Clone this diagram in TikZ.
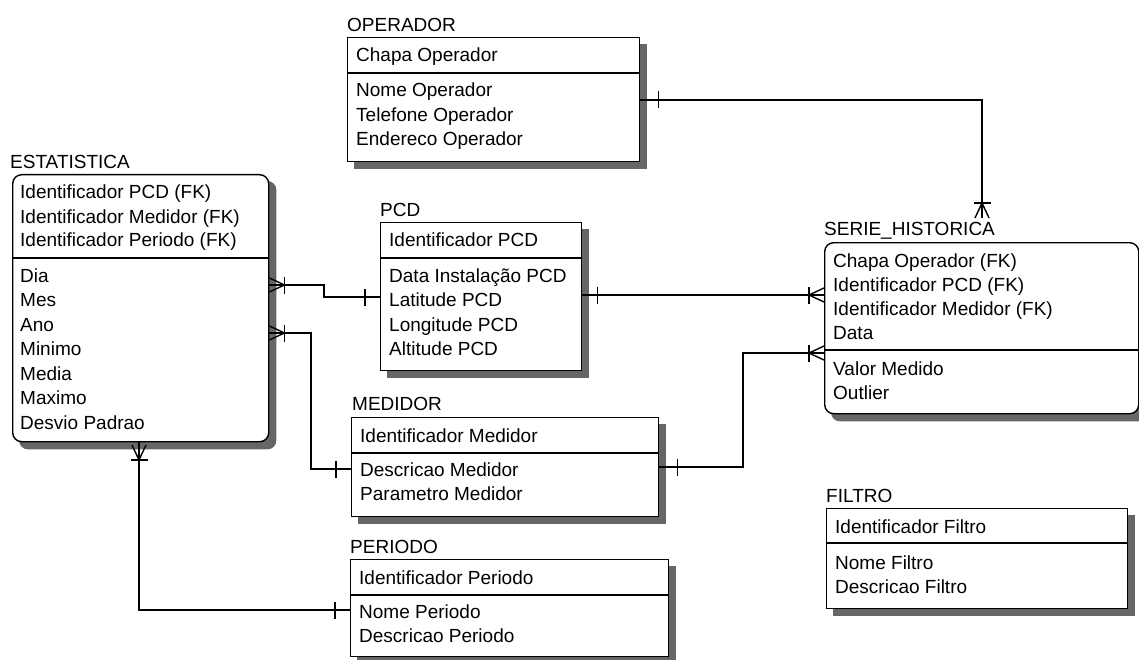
\documentclass[tikz,border=0pt]{standalone}
\usepackage{fontspec}
\setmainfont{Liberation Sans}
\usetikzlibrary{backgrounds}
\newcommand\efont{\fontsize{19}{24}\selectfont}
\tikzset{
  x=1pt, y=-1pt,
  ln/.style={line width=1.4pt, black},
  ebox/.style={draw, line width=1.4pt, fill=white, inner sep=0pt, anchor=north west},
  rbox/.style={ebox, rounded corners=9pt},
  shad/.style={fill=black!60, draw=none},
  ttl/.style={anchor=base west, inner sep=0pt, font=\efont},
  att/.style={anchor=base west, inner sep=0pt, font=\efont},
  many/.pic={\draw[ln] (0,-7) -- (15,0) -- (0,7); \draw[ln] (15,-8.5) -- (15,8.5);},
  one/.pic={\draw[ln] (15,-8.5) -- (15,8.5);},
  oneS/.pic={\draw[ln] (18,-8.5) -- (18,8.5);},
}
\begin{document}
\begin{tikzpicture}
\useasboundingbox (0,0) rectangle (1139,660);

% OPERADOR
\node[ttl] (opT) at (347,32) {OPERADOR};
\node[ebox, minimum width=292pt, minimum height=124pt] (op) at (347,37) {};
\draw[ln] (op.west |- 0,73) -- (op.east |- 0,73);
\node[att] (opK1) at (356,62) {Chapa Operador};
\node[att] (opA1) at (356,97) {Nome Operador};
\node[att] (opA2) at (356,121.5) {Telefone Operador};
\node[att] (opA3) at (356,146) {Endereco Operador};

% ESTATISTICA
\node[ttl] (estT) at (10,169) {ESTATISTICA};
\node[rbox, minimum width=256pt, minimum height=267pt] (est) at (12,174) {};
\draw[ln] (est.west |- 0,258) -- (est.east |- 0,258);
\node[att] (estK1) at (20,199) {Identificador PCD (FK)};
\node[att] (estK2) at (20,223) {Identificador Medidor (FK)};
\node[att] (estK3) at (20,247) {Identificador Periodo (FK)};
\node[att] (estA1) at (20,282) {Dia};
\node[att] (estA2) at (20,306.5) {Mes};
\node[att] (estA3) at (20,331) {Ano};
\node[att] (estA4) at (20,355.5) {Minimo};
\node[att] (estA5) at (20,380) {Media};
\node[att] (estA6) at (20,404.5) {Maximo};
\node[att] (estA7) at (20,429) {Desvio Padrao};

% PCD
\node[ttl] (pcdT) at (380,217) {PCD};
\node[ebox, minimum width=201pt, minimum height=148pt] (pcd) at (380,222) {};
\draw[ln] (pcd.west |- 0,258) -- (pcd.east |- 0,258);
\node[att] (pcdK1) at (389,246) {Identificador PCD};
\node[att] (pcdA1) at (389,282) {Data Instalação PCD};
\node[att] (pcdA2) at (389,306.5) {Latitude PCD};
\node[att] (pcdA3) at (389,331) {Longitude PCD};
\node[att] (pcdA4) at (389,355.5) {Altitude PCD};

% MEDIDOR
\node[ttl] (medT) at (352,410) {MEDIDOR};
\node[ebox, minimum width=307pt, minimum height=99pt] (med) at (351,417) {};
\draw[ln] (med.west |- 0,453) -- (med.east |- 0,453);
\node[att] (medK1) at (360,442) {Identificador Medidor};
\node[att] (medA1) at (360,476) {Descricao Medidor};
\node[att] (medA2) at (360,500.5) {Parametro Medidor};

% PERIODO
\node[ttl] (perT) at (350,553) {PERIODO};
\node[ebox, minimum width=318pt, minimum height=97pt] (per) at (350,559) {};
\draw[ln] (per.west |- 0,595) -- (per.east |- 0,595);
\node[att] (perK1) at (359,584) {Identificador Periodo};
\node[att] (perA1) at (359,618) {Nome Periodo};
\node[att] (perA2) at (359,642.5) {Descricao Periodo};

% SERIE_HISTORICA
\node[ttl] (serT) at (824,236) {SERIE\_HISTORICA};
\node[rbox, minimum width=314pt, minimum height=171pt] (ser) at (824,242) {};
\draw[ln] (ser.west |- 0,350) -- (ser.east |- 0,350);
\node[att] (serK1) at (833,267) {Chapa Operador (FK)};
\node[att] (serK2) at (833,291) {Identificador PCD (FK)};
\node[att] (serK3) at (833,315) {Identificador Medidor (FK)};
\node[att] (serK4) at (833,339) {Data};
\node[att] (serA1) at (833,375) {Valor Medido};
\node[att] (serA2) at (833,399) {Outlier};

% FILTRO
\node[ttl] (filT) at (826,502) {FILTRO};
\node[ebox, minimum width=301pt, minimum height=100pt] (fil) at (826,508) {};
\draw[ln] (fil.west |- 0,543) -- (fil.east |- 0,543);
\node[att] (filK1) at (835,533) {Identificador Filtro};
\node[att] (filA1) at (835,569) {Nome Filtro};
\node[att] (filA2) at (835,593) {Descricao Filtro};

% shadows
\begin{scope}[on background layer]
\fill[white] (0,0) rectangle (1139,660);
\foreach \b in {op,pcd,med,per,fil}
  \fill[shad] ([shift={(7pt,-7pt)}]\b.north west) rectangle ([shift={(7pt,-7pt)}]\b.south east);
\foreach \b in {est,ser}
  \fill[shad, rounded corners=9pt] ([shift={(7pt,-7pt)}]\b.north west) rectangle ([shift={(7pt,-7pt)}]\b.south east);
\end{scope}

% connectors
\coordinate (serIn) at (982,218);

\draw[ln] (est.east |- 0,285) -- (324,285) |- (pcd.west |- 0,297);
\pic at (est.east |- 0,285) {many};
\pic[rotate=180] at (pcd.west |- 0,297) {one};

\draw[ln] (est.east |- 0,333) -- (311,333) |- (med.west |- 0,469);
\pic at (est.east |- 0,333) {many};
\pic[rotate=180] at (med.west |- 0,469) {one};

\draw[ln] (est.south -| 139,0) |- (per.west |- 0,610);
\pic[rotate=-90] at (139,445) {many};
\pic[rotate=180] at (per.west |- 0,610) {one};

\draw[ln] (pcd.east |- 0,295) -- (ser.west |- 0,295);
\pic at (pcd.east |- 0,295) {one};
\pic[rotate=180] at (ser.west |- 0,295) {many};

\draw[ln] (med.east |- 0,467) -- (743,467) |- (ser.west |- 0,353);
\pic at (med.east |- 0,467) {oneS};
\pic[rotate=180] at (ser.west |- 0,353) {many};

\draw[ln] (op.east |- 0,100) -| (serIn);
\pic at (op.east |- 0,100) {oneS};
\pic[rotate=90] at (serIn) {many};
\end{tikzpicture}
\end{document}
